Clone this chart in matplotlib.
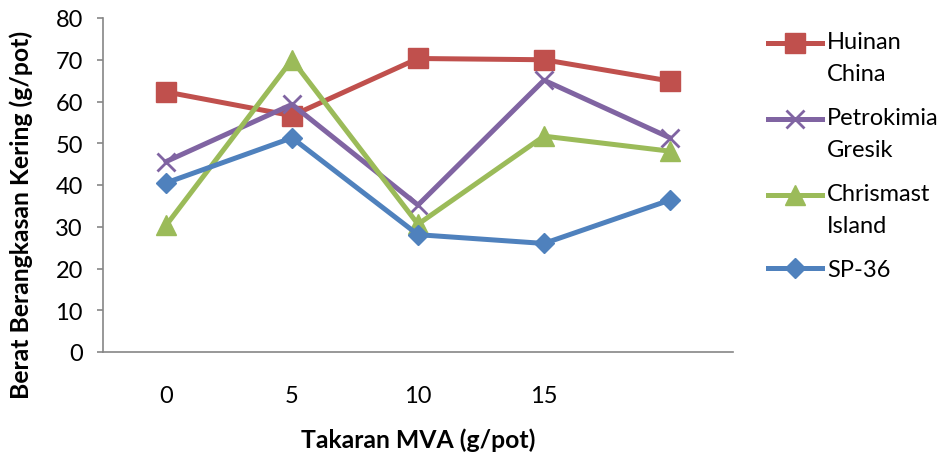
"""
Berat berangkasan kering vs takaran MVA, gaya grafik Excel
"""
import numpy as np
import matplotlib

matplotlib.use("Agg")
import matplotlib.pyplot as plt
from matplotlib.legend_handler import HandlerLine2D

plt.rcParams['font.family'] = ['Lato', 'DejaVu Sans']

takaran = ['0', '5', '10', '15', '']
huinan = [62.3, 56.6, 70.3, 70.0, 64.9]
petrokimia = [45.6, 59.3, 35.2, 65.1, 51.3]
chrismast = [30.3, 70.0, 30.6, 51.7, 48.1]
sp36 = [40.5, 51.3, 28.1, 26.0, 36.4]

names = ['Huinan\nChina', 'Petrokimia\nGresik', 'Chrismast\nIsland', 'SP-36']
colors = ['#C0504D', '#8064A2', '#9BBB59', '#4F81BD']
markers = ['s', 'x', '^', 'D']
msizes = [14, 13, 15, 10]

FS = 17
LS = 1.65


class FirstLineHandler(HandlerLine2D):
    # geser handle ke baris pertama label
    def __init__(self, shift, **kw):
        super().__init__(**kw)
        self.shift = shift

    def create_artists(self, legend, orig_handle, xdescent, ydescent, width, height, fontsize, trans):
        arts = super().create_artists(legend, orig_handle, xdescent, ydescent, width, height, fontsize, trans)
        for a in arts:
            a.set_ydata(np.asarray(a.get_ydata()) + self.shift)
        return arts


fig = plt.figure(figsize=(9.42, 4.60), dpi=100)
ax = fig.add_axes([103 / 942, 107 / 460, 630 / 942, 334 / 460])

x = np.arange(len(takaran))
lines = []
for vals, name, c, m, ms in zip([huinan, petrokimia, chrismast, sp36], names, colors, markers, msizes):
    ln, = ax.plot(x, vals, color=c, lw=3.6, marker=m, markersize=ms,
                  markerfacecolor=c, markeredgecolor=c,
                  markeredgewidth=2 if m == 'x' else 1, label=name)
    lines.append(ln)

ax.set_xlim(-0.5, len(takaran) - 0.5)
ax.set_ylim(0, 80)
ax.set_yticks(range(0, 81, 10))
ax.set_xticks(x)
ax.set_xticklabels(takaran)

for s in ['top', 'right']:
    ax.spines[s].set_visible(False)
for s in ['left', 'bottom']:
    ax.spines[s].set_color('#868686')
    ax.spines[s].set_linewidth(1.2)
ax.tick_params(axis='y', length=4.5, width=1.2, color='#868686', labelsize=FS, pad=10)
ax.tick_params(axis='x', length=0, labelsize=FS, pad=24)

fig.text(21 / 942, 1 - 215 / 460, 'Berat Berangkasan Kering (g/pot)', rotation=90,
         ha='center', va='center', fontsize=17.8, fontweight='bold')
fig.text(418 / 942, 1 - 440 / 460, 'Takaran MVA (g/pot)',
         ha='center', va='center', fontsize=17.8, fontweight='bold')

shift = 15 / 1.389  # setengah jarak baris (px -> pt)
hmap = {ln: FirstLineHandler(shift if '\n' in ln.get_label() else 0) for ln in lines}
leg = ax.legend(handles=lines, handler_map=hmap, loc='upper left',
                bbox_to_anchor=(768 / 942, 1 - 32 / 460), bbox_transform=fig.transFigure,
                frameon=False, fontsize=FS, borderpad=0, borderaxespad=0,
                handlelength=2.3, handletextpad=0.2, labelspacing=0.97)
for t in leg.get_texts():
    t.set_linespacing(LS)

plt.savefig('out.png', dpi=100)
